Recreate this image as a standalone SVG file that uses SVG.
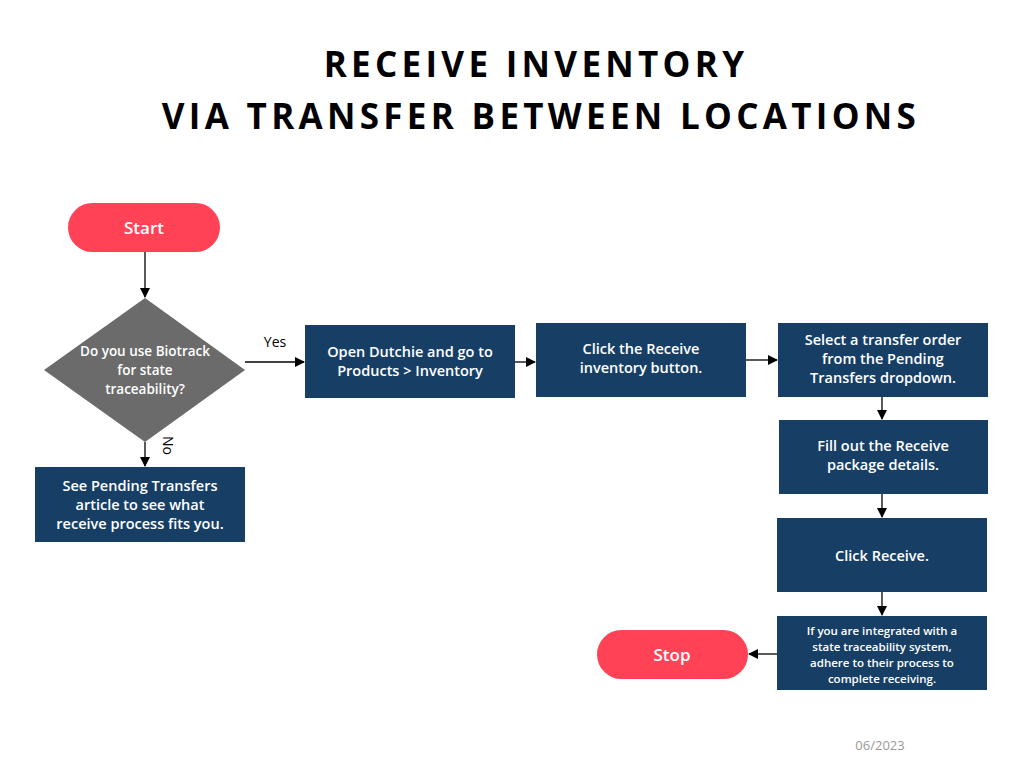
<svg xmlns="http://www.w3.org/2000/svg" width="1024" height="768" viewBox="0 0 1024 768">
<style>
.t{font-family:"Open Sans","Liberation Sans",sans-serif;font-weight:bold;font-size:35px;letter-spacing:4.3px;fill:#000;text-anchor:middle}
.b{fill:#173F66}
.w{font-family:"Open Sans","Liberation Sans",sans-serif;font-weight:600;font-size:14.5px;fill:#fff;text-anchor:middle}
.s{font-size:13.5px}
.p{fill:#FF4255}
.l{stroke:#000;stroke-width:1.3;fill:none;marker-end:url(#a)}
</style>
<defs><marker id="a" markerWidth="10" markerHeight="10" refX="9" refY="5" orient="auto" markerUnits="userSpaceOnUse"><path d="M0,0L10,5L0,10z" fill="#000"/></marker></defs>
<rect width="1024" height="768" fill="#fff"/>
<text class="t" x="536" y="77">RECEIVE INVENTORY</text>
<text class="t" x="541" y="129">VIA TRANSFER BETWEEN LOCATIONS</text>
<g id="connectors">
<path class="l" d="M145,252V297"/>
<path class="l" d="M245,362H304"/>
<path class="l" d="M145,442V466"/>
<path class="l" d="M515,362H535"/>
<path class="l" d="M746,360H777"/>
<path class="l" d="M882,397V419"/>
<path class="l" d="M882,494V517"/>
<path class="l" d="M882,592V615"/>
<path class="l" d="M777,654H749"/>
<text x="275" y="347" font-family="Open Sans,Liberation Sans,sans-serif" font-size="14" text-anchor="middle">Yes</text>
<text transform="translate(163,436) rotate(90)" font-family="Open Sans,Liberation Sans,sans-serif" font-size="14">No</text>
</g>
<g id="start"><rect class="p" x="68" y="203" width="152" height="49" rx="24.5"/><text class="w" x="144" y="234" style="font-size:17px">Start</text></g>
<g id="decision"><path d="M145,298L245,370L145,442L44,370z" fill="#6b6b6b"/><text class="w s"><tspan x="145" y="356">Do you use Biotrack</tspan><tspan x="145" y="375">for state</tspan><tspan x="145" y="394">traceability?</tspan></text></g>
<g id="box1"><rect class="b" x="305" y="325" width="210" height="73"/><text class="w"><tspan x="410" y="357">Open Dutchie and go to</tspan><tspan x="410" y="376">Products &gt; Inventory</tspan></text></g>
<g id="box2"><rect class="b" x="536" y="323" width="210" height="74"/><text class="w"><tspan x="641" y="354">Click the Receive</tspan><tspan x="641" y="373">inventory button.</tspan></text></g>
<g id="box3"><rect class="b" x="778" y="323" width="210" height="74"/><text class="w"><tspan x="883" y="345">Select a transfer order</tspan><tspan x="883" y="364">from the Pending</tspan><tspan x="883" y="383">Transfers dropdown.</tspan></text></g>
<g id="box4"><rect class="b" x="779" y="420" width="209" height="74"/><text class="w"><tspan x="883" y="451">Fill out the Receive</tspan><tspan x="883" y="470">package details.</tspan></text></g>
<g id="box5"><rect class="b" x="777" y="518" width="210" height="74"/><text class="w" x="882" y="561">Click Receive.</text></g>
<g id="box6"><rect class="b" x="777" y="616" width="210" height="74"/><text class="w" style="font-size:11.5px"><tspan x="882" y="635">If you are integrated with a</tspan><tspan x="882" y="651">state traceability system,</tspan><tspan x="882" y="667">adhere to their process to</tspan><tspan x="882" y="683">complete receiving.</tspan></text></g>
<g id="stop"><rect class="p" x="597" y="630" width="151" height="49" rx="24.5"/><text class="w" x="672" y="661" style="font-size:17px">Stop</text></g>
<g id="box7"><rect class="b" x="35" y="467" width="210" height="75"/><text class="w"><tspan x="140" y="491">See Pending Transfers</tspan><tspan x="140" y="510">article to see what</tspan><tspan x="140" y="529">receive process fits you.</tspan></text></g>
<text x="880" y="750" font-family="Open Sans,Liberation Sans,sans-serif" font-size="13" fill="#999" text-anchor="middle">06/2023</text>
</svg>
